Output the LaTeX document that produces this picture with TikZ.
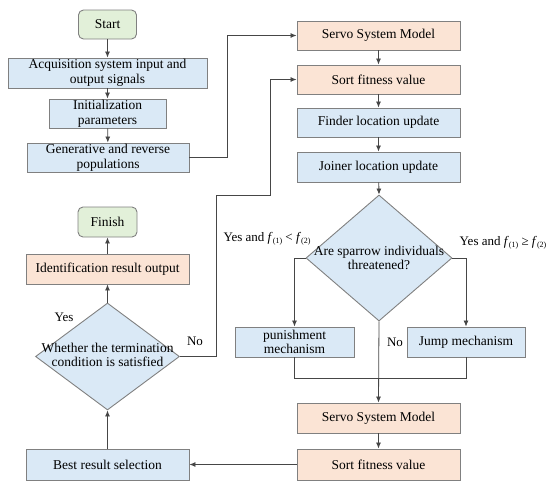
\documentclass[tikz,border=0pt]{standalone}
\usepackage{fontspec}
\setmainfont{Liberation Serif}
\usetikzlibrary{shapes.geometric,arrows.meta}
\definecolor{bluefill}{RGB}{218,233,246}
\definecolor{peachfill}{RGB}{251,228,213}
\definecolor{greenfill}{RGB}{226,240,217}
\definecolor{edgegray}{RGB}{128,128,128}
\definecolor{linegray}{RGB}{70,70,70}
\newcommand{\fsub}[1]{\textit{f}\raisebox{-0.35ex}{\fontsize{8}{9}\selectfont(#1)}}
\tikzset{
  box/.style={draw=edgegray, line width=0.9pt, inner sep=1pt, align=center, font=\fontsize{13.5}{14.5}\selectfont},
  bluebox/.style={box, fill=bluefill},
  peachbox/.style={box, fill=peachfill},
  greenbox/.style={box, fill=greenfill, rounded corners=5pt},
  decision/.style={diamond, draw=edgegray, line width=0.9pt, fill=bluefill, inner sep=0pt},
  dtext/.style={align=center, font=\fontsize{13.5}{14.5}\selectfont},
  lbl/.style={font=\fontsize{13}{14}\selectfont},
  conn/.style={draw=linegray, line width=0.8pt},
  arr/.style={conn, -{Latex[length=6pt,width=5pt]}}
}
\begin{document}
\begin{tikzpicture}[x=1pt,y=-1pt]
\useasboundingbox (0,0) rectangle (550,483);
% left column
\node[greenbox, minimum width=58pt, minimum height=29pt] (start) at (107.5,24.5) {Start};
\node[bluebox, minimum width=199pt, minimum height=30pt] (acq) at (107.5,73) {Acquisition system input and\\output signals};
\node[bluebox, minimum width=117pt, minimum height=29pt] (init) at (107.5,113.5) {Initialization\\parameters};
\node[bluebox, minimum width=162pt, minimum height=29pt] (gen) at (108,157.5) {Generative and reverse\\populations};
\node[greenbox, minimum width=59pt, minimum height=30pt] (finish) at (107.5,222) {Finish};
\node[peachbox, minimum width=163pt, minimum height=30pt] (ident) at (107.5,269) {Identification result output};
\node[decision, minimum width=144pt, minimum height=107pt] (term) at (107.5,356.5) {};
\node[dtext] (termtext) at (107.5,355) {Whether the termination\\condition is satisfied};
\node[bluebox, minimum width=163pt, minimum height=31pt] (best) at (107.5,464.5) {Best result selection};
% right column
\node[peachbox, minimum width=163pt, minimum height=29pt] (servoa) at (378.5,35.5) {Servo System Model};
\node[peachbox, minimum width=163pt, minimum height=29pt] (sorta) at (378.5,79.5) {Sort fitness value};
\node[bluebox, minimum width=163pt, minimum height=29pt] (finder) at (378.5,122.5) {Finder location update};
\node[bluebox, minimum width=163pt, minimum height=30pt] (joiner) at (378.5,167) {Joiner location update};
\node[decision, minimum width=146pt, minimum height=126pt] (threat) at (379,258) {};
\node[dtext] (threattext) at (379,258) {Are sparrow individuals\\threatened?};
\node[bluebox, minimum width=119pt, minimum height=30pt] (punish) at (294.5,342) {punishment\\mechanism};
\node[bluebox, minimum width=118pt, minimum height=30pt] (jump) at (466,342) {Jump mechanism};
\node[peachbox, minimum width=163pt, minimum height=30pt] (servob) at (378.5,418) {Servo System Model};
\node[peachbox, minimum width=163pt, minimum height=31pt] (sortb) at (378.5,464.5) {Sort fitness value};
% helper coordinates
\coordinate (g1) at (227,157.5);
\coordinate (g2) at (227,35.5);
\coordinate (n1) at (216,356.5);
\coordinate (n2) at (216,195);
\coordinate (n3) at (270,195);
\coordinate (n4) at (270,79.5);
\coordinate (pl) at (294.5,258);
\coordinate (jr) at (466,258);
\coordinate (m1) at (294.5,378);
\coordinate (m2) at (466,378);
% connectors
\draw[arr] (start) -- (acq);
\draw[arr] (acq) -- (init);
\draw[arr] (init) -- (gen);
\draw[arr] (gen.east) -- (g1) -- (g2) -- (servoa.west);
\draw[arr] (servoa) -- (sorta);
\draw[arr] (sorta) -- (finder);
\draw[arr] (finder) -- (joiner);
\draw[arr] (joiner) -- (threat.north);
\draw[arr] (threat.west) -- (pl) -- (punish.north);
\draw[arr] (threat.east) -- (jr) -- (jump.north);
\draw[conn] (punish.south) -- (m1) -- (m2) -- (jump.south);
\draw[arr] (threat.south) -- (servob.north);
\draw[arr] (servob) -- (sortb);
\draw[arr] (sortb.west) -- (best.east);
\draw[arr] (best.north) -- (term.south);
\draw[arr] (term.north) -- (ident.south);
\draw[arr] (ident) -- (finish);
\draw[arr] (term.east) -- (n1) -- (n2) -- (n3) -- (n4) -- (sorta.west);
% labels
\node[lbl] (yesl) at (267,239) {Yes and \fsub{1} < \fsub{2}};
\node[lbl] (yesr) at (503,243) {Yes and \fsub{1} ≥ \fsub{2}};
\node[lbl] (nomid) at (395,342) {No};
\node[lbl] (yest) at (64,317) {Yes};
\node[lbl] (not) at (195,341) {No};
\end{tikzpicture}
\end{document}
